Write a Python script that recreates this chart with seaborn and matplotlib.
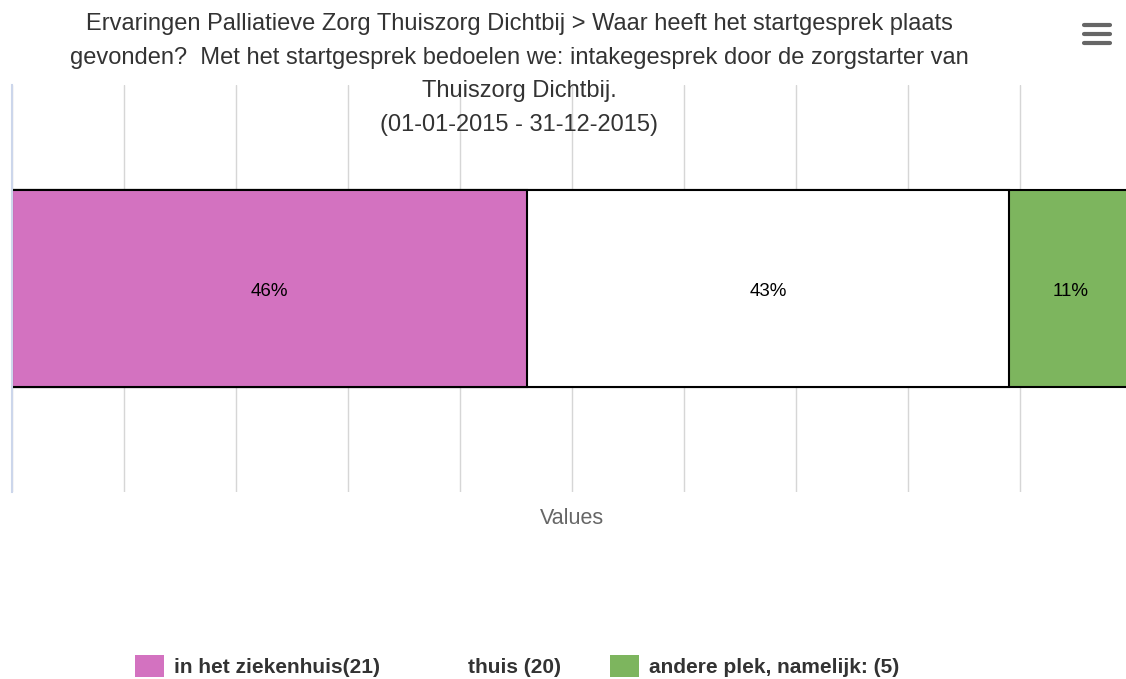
import matplotlib
matplotlib.use("Agg")
import matplotlib.pyplot as plt
import seaborn as sns
import pandas as pd
from matplotlib.patches import Patch
from matplotlib.lines import Line2D

# Data
categories = ["in het ziekenhuis(21)", "thuis (20)", "andere plek, namelijk: (5)"]
percentages = [46, 43, 11]
colors = ["#D372C0", "#FFFFFF", "#7DB55E"]
title = ("Ervaringen Palliatieve Zorg Thuiszorg Dichtbij > Waar heeft het startgesprek plaats\n"
         "gevonden?  Met het startgesprek bedoelen we: intakegesprek door de zorgstarter van\n"
         "Thuiszorg Dichtbij.\n(01-01-2015 - 31-12-2015)")

sns.set_style("white")
plt.rcParams['font.family'] = ['Liberation Sans', 'DejaVu Sans']

W, H = 1126, 679
fig = plt.figure(figsize=(W / 100, H / 100), dpi=100)
# plot area runs past the right edge, like the original
ax = fig.add_axes([12 / W, 1 - 492 / H, 1120 / W, 407 / H])

# stacked bar: draw cumulative totals from largest to smallest
cum = pd.Series(percentages).cumsum().tolist()
for i in reversed(range(len(categories))):
    df = pd.DataFrame({"row": ["all"], "value": [cum[i]]})
    sns.barplot(data=df, x="value", y="row", orient="h", color=colors[i],
                saturation=1, width=0.486, edgecolor="black", linewidth=1.5, ax=ax)

starts = [0] + cum[:-1]
for s, p in zip(starts, percentages):
    ax.text(s + p / 2, 0.008, f"{p}%", ha="center", va="center", fontsize=13.5, color="black")

ax.set_xlim(0, 100)
ax.set_ylim(0.5, -0.5)
ax.set_xticks(range(0, 101, 10))
ax.set_xticklabels([])
ax.set_yticks([])
ax.set_ylabel("")
ax.tick_params(axis="x", length=0)
ax.grid(axis="x", color="#d6d6d6", linewidth=1)
ax.set_axisbelow(True)
for side in ["top", "right", "bottom"]:
    ax.spines[side].set_visible(False)
ax.spines["left"].set_color("#ccd6eb")
ax.spines["left"].set_linewidth(1.5)
ax.set_xlabel("Values", fontsize=15.5, color="#666666", labelpad=8)

fig.text(519 / W, 1 - 13 / H, title, ha="center", va="top", fontsize=17,
         color="#333333", linespacing=1.68)

# legend
handles = [Patch(facecolor=c, edgecolor="none") for c in colors]
leg = fig.legend(handles, categories, loc="center", bbox_to_anchor=(517 / W, 1 - 666 / H),
                 ncol=3, frameon=False, prop={"weight": "bold", "size": 15},
                 handlelength=1.4, handleheight=1.3, handletextpad=0.48, columnspacing=2.35)
for t in leg.get_texts():
    t.set_color("#333333")

# menu icon
for y in [25, 34, 43]:
    fig.add_artist(Line2D([1084 / W, 1110 / W], [1 - y / H, 1 - y / H], color="#666666",
                          linewidth=3, solid_capstyle="round"))

fig.savefig("out.png", dpi=100)
